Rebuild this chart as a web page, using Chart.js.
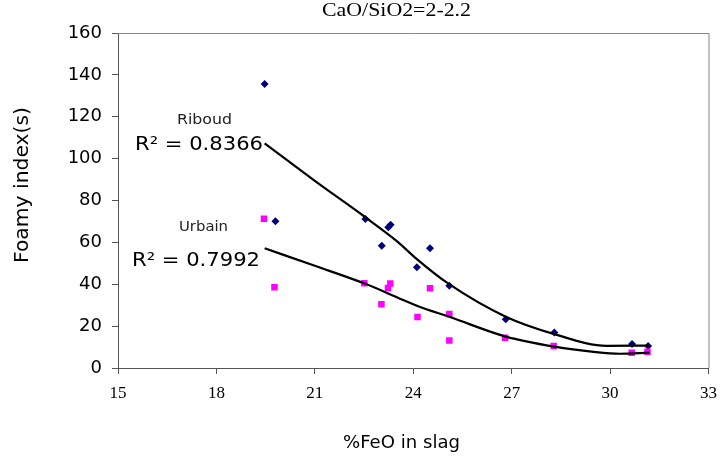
<!DOCTYPE html>
<html>
<head>
<meta charset="utf-8">
<script src="https://cdn.jsdelivr.net/npm/chart.js@4.4.1/dist/chart.umd.min.js"></script>
<style>
  body { margin: 0; background: #fff; }
  canvas { display: block; }
</style>
</head>
<body>
<canvas id="myChart" width="726" height="466"></canvas>
<script>
// Dane
const riboudX = [19.47, 19.80, 22.54, 23.04, 23.24, 23.31, 24.11, 24.51, 25.10, 26.82, 28.30, 30.67, 31.16];
const riboudY = [135.6, 70.1, 71.2, 58.4, 67.2, 68.4, 48.1, 57.2, 39.3, 23.3, 16.9, 11.5, 10.5];

const urbainX = [19.45, 19.77, 22.51, 23.03, 23.23, 23.30, 24.13, 24.51, 25.10, 25.10, 26.80, 28.28, 30.66, 31.14];
const urbainY = [71.3, 38.6, 40.5, 30.4, 38.2, 40.3, 24.4, 38.1, 25.8, 13.1, 14.4, 10.5, 7.3, 7.8];

// linie trendu (odczytane punkty krzywej)
const riboudTrendX = [19.47, 21.0, 22.54, 23.5, 24.11, 25.05, 26.82, 28.3, 29.9, 31.2];
const riboudTrendY = [107.3, 89.4, 72.0, 60.6, 52.0, 40.5, 24.5, 16.2, 10.6, 10.7];

const urbainTrendX = [19.47, 21.0, 22.54, 23.53, 24.13, 25.14, 26.82, 28.3, 29.5, 30.3, 31.2];
const urbainTrendY = [57.2, 48.8, 40.2, 33.6, 29.6, 24.2, 15.0, 10.2, 7.7, 6.8, 7.3];

const xTicks = [15, 18, 21, 24, 27, 30, 33];
const yTicks = [0, 20, 40, 60, 80, 100, 120, 140, 160];

const titleText = 'CaO/SiO2=2-2.2';
const xTitle = '%FeO in slag';
const yTitle = 'Foamy index(s)';
const riboudLabel = 'Riboud';
const riboudR2 = 'R\u00B2 = 0.8366';
const urbainLabel = 'Urbain';
const urbainR2 = 'R\u00B2 = 0.7992';

function toPoints(xs, ys) {
    return xs.map(function (x, i) { return { x: x, y: ys[i] }; });
}

// rysuje tekst rozciągnięty do zadanej szerokości
function fitText(ctx, txt, x, y, w) {
    const m = ctx.measureText(txt).width;
    ctx.save();
    ctx.translate(x, y);
    ctx.scale(w / m, 1);
    ctx.textAlign = 'left';
    ctx.fillText(txt, 0, 0);
    ctx.restore();
}

const textPlugin = {
    id: 'texts',
    beforeDatasetsDraw: function (chart) {
        const ctx = chart.ctx;
        const a = chart.chartArea;
        ctx.save();
        ctx.strokeStyle = '#888';
        ctx.lineWidth = 1;
        ctx.beginPath();
        ctx.moveTo(a.left, a.top + 0.5);
        ctx.lineTo(a.right + 0.5, a.top + 0.5);
        ctx.lineTo(a.right + 0.5, a.bottom);
        ctx.stroke();
        ctx.restore();
    },
    afterDraw: function (chart) {
        const ctx = chart.ctx;
        ctx.save();
        ctx.fillStyle = '#000';
        ctx.textBaseline = 'alphabetic';

        ctx.font = '18px "Liberation Serif"';
        fitText(ctx, titleText, 322, 16, 149);

        ctx.font = '18px "DejaVu Sans"';
        fitText(ctx, xTitle, 343, 448, 117);

        ctx.save();
        ctx.translate(28, 185);
        ctx.rotate(-Math.PI / 2);
        ctx.font = '20px "DejaVu Sans"';
        fitText(ctx, yTitle, -78, 0, 156);
        ctx.restore();

        ctx.fillStyle = '#222';
        ctx.font = '14px "DejaVu Sans"';
        fitText(ctx, riboudLabel, 177, 124, 55);
        fitText(ctx, urbainLabel, 179, 231, 49);

        ctx.fillStyle = '#000';
        ctx.font = '19px "DejaVu Sans"';
        fitText(ctx, riboudR2, 135, 150, 128);
        fitText(ctx, urbainR2, 132, 266, 128);
        ctx.restore();
    }
};

const ctx = document.getElementById('myChart').getContext('2d');
const chart = new Chart(ctx, {
    type: 'scatter',
    data: {
        datasets: [{
            label: 'Riboud trend',
            data: toPoints(riboudTrendX, riboudTrendY),
            showLine: true,
            borderColor: '#000',
            borderWidth: 2.2,
            pointRadius: 0,
            cubicInterpolationMode: 'monotone',
            order: 1
        }, {
            label: 'Urbain trend',
            data: toPoints(urbainTrendX, urbainTrendY),
            showLine: true,
            borderColor: '#000',
            borderWidth: 2.2,
            pointRadius: 0,
            cubicInterpolationMode: 'monotone',
            order: 1
        }, {
            label: 'Urbain',
            data: toPoints(urbainX, urbainY),
            pointStyle: 'rect',
            pointRadius: 4.6,
            backgroundColor: '#ff00ff',
            borderColor: '#ff00ff',
            borderWidth: 0,
            order: 2
        }, {
            label: 'Riboud',
            data: toPoints(riboudX, riboudY),
            pointStyle: 'rectRot',
            pointRadius: 4,
            backgroundColor: '#000080',
            borderColor: '#000080',
            borderWidth: 0,
            order: 2
        }]
    },
    options: {
        responsive: false,
        animation: false,
        layout: { padding: { top: 33, right: 11, left: 0, bottom: 0 } },
        plugins: {
            legend: { display: false },
            tooltip: { enabled: false }
        },
        scales: {
            x: {
                type: 'linear',
                min: 15,
                max: 33,
                afterBuildTicks: function (s) { s.ticks = xTicks.map(function (v) { return { value: v }; }); },
                ticks: {
                    color: '#000',
                    padding: 9,
                    font: { family: '"Liberation Serif"', size: 17 }
                },
                grid: { drawOnChartArea: false, tickLength: 6, color: '#555' },
                border: { color: '#555' },
                afterFit: function (s) { s.height = 98; }
            },
            y: {
                type: 'linear',
                min: 0,
                max: 160,
                afterBuildTicks: function (s) { s.ticks = yTicks.map(function (v) { return { value: v }; }); },
                ticks: {
                    color: '#000',
                    padding: 10,
                    font: { family: '"DejaVu Sans"', size: 18 }
                },
                grid: { drawOnChartArea: false, tickLength: 6, color: '#555' },
                border: { color: '#555' },
                afterFit: function (s) { s.width = 118; }
            }
        }
    },
    plugins: [textPlugin]
});
</script>
</body>
</html>
